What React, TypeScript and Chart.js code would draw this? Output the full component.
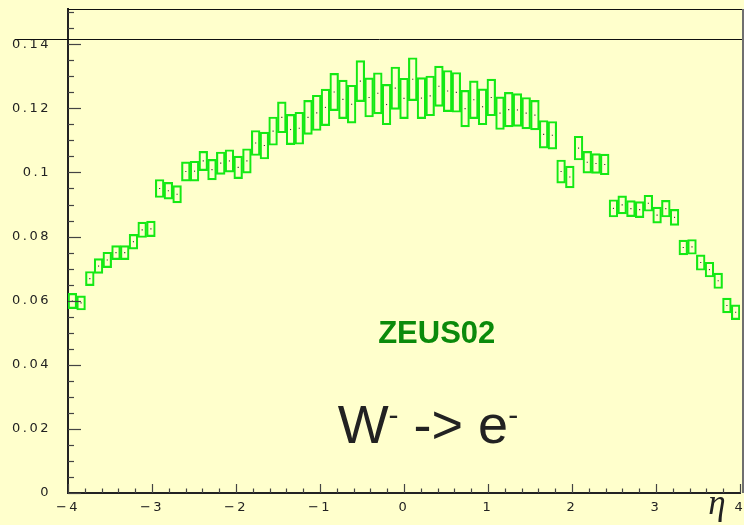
import { useEffect, useRef } from 'react';
import { Chart, registerables } from 'chart.js';

Chart.register(...registerables);

// Pseudorapidity range of the histogram and its binning
const ETA_MIN = -4;
const ETA_MAX = 4;
const ETA_STEP = 1;

// Vertical range
const Y_MIN = 0;
const Y_MAX = 0.151;
const Y_STEP = 0.02;
const Y_MINOR_STEP = 0.005;
const X_MINOR_STEP = 0.2;

// Horizontal reference line
const REF_LINE = 0.1415;

// Bin contents (box centres) per eta bin, from eta = -4 to eta = 4
const VALUES = [
  0.0599, 0.0593, 0.0669, 0.0708, 0.0727, 0.0750, 0.0750, 0.0784, 0.0821, 0.0824,
  0.0950, 0.0943, 0.0932, 0.1003, 0.1004, 0.1036, 0.1009, 0.1029, 0.1036, 0.1016,
  0.1036, 0.1092, 0.1084, 0.1129, 0.1172, 0.1134, 0.1138, 0.1172, 0.1186, 0.1203,
  0.1251, 0.1228, 0.1213, 0.1285, 0.1234, 0.1247, 0.1212, 0.1263, 0.1231, 0.1291,
  0.1232, 0.1239, 0.1269, 0.1254, 0.1250, 0.1199, 0.1227, 0.1205, 0.1234, 0.1185,
  0.1196, 0.1195, 0.1185, 0.1179, 0.1119, 0.1116, 0.1003, 0.0986, 0.1076, 0.1032,
  0.1028, 0.1025, 0.0888, 0.0899, 0.0887, 0.0884, 0.0904, 0.0867, 0.0887, 0.0860,
  0.0766, 0.0768, 0.0719, 0.0697, 0.0662, 0.0585, 0.0564,
];

// Half-heights of the error boxes
const ERRORS = [
  0.0024, 0.0022, 0.0022, 0.0023, 0.0024, 0.0022, 0.0022, 0.0023, 0.0024, 0.0024,
  0.0028, 0.0026, 0.0027, 0.0030, 0.0031, 0.0030, 0.0032, 0.0035, 0.0035, 0.0035,
  0.0038, 0.0039, 0.0042, 0.0044, 0.0048, 0.0047, 0.0050, 0.0053, 0.0055, 0.0057,
  0.0058, 0.0060, 0.0059, 0.0064, 0.0061, 0.0064, 0.0063, 0.0066, 0.0063, 0.0067,
  0.0064, 0.0062, 0.0063, 0.0064, 0.0062, 0.0057, 0.0059, 0.0056, 0.0057, 0.0051,
  0.0054, 0.0051, 0.0049, 0.0046, 0.0043, 0.0043, 0.0036, 0.0034, 0.0037, 0.0034,
  0.0031, 0.0032, 0.0027, 0.0028, 0.0025, 0.0025, 0.0025, 0.0025, 0.0026, 0.0025,
  0.0023, 0.0023, 0.0024, 0.0023, 0.0024, 0.0023, 0.0023,
];

// Text labels
const EXPERIMENT = 'ZEUS02';
const EXPERIMENT_POS = { x: 0.39, y: 0.0469 };
const PROCESS_POS = { x: -0.79, y: 0.0157 };
const AXIS_TITLE = 'η';

const BG = '#ffffcc';
const BOX_COLOR = '#14e914';
const TEXT_DARK = '#222222';

const fmtY = (v: number) => String(Number(v.toFixed(3)));
const fmtX = (v: number) => (v < 0 ? '\u2212' + String(-v) : String(v));

const pageBackground = {
  id: 'pageBackground',
  beforeDraw(chart: any) {
    const { ctx, width, height } = chart;
    ctx.save();
    ctx.fillStyle = BG;
    ctx.fillRect(0, 0, width, height);
    ctx.restore();
    // wide-set tick lettering
    ctx.letterSpacing = '2.5px';
  },
  beforeDatasetsDraw(chart: any) {
    chart.ctx.letterSpacing = '0px';
  },
};

const frameAndText = {
  id: 'frameAndText',
  afterDraw(chart: any) {
    const { ctx, chartArea: a, scales, width } = chart;
    const xs = scales.x;
    const ys = scales.y;
    ctx.save();
    ctx.letterSpacing = '0px';

    const seg = (x1: number, y1: number, x2: number, y2: number) => {
      ctx.beginPath();
      ctx.moveTo(x1, y1);
      ctx.lineTo(x2, y2);
      ctx.stroke();
    };

    // top frame edge
    ctx.strokeStyle = '#111';
    ctx.lineWidth = 1;
    seg(a.left, Math.round(a.top) + 0.5, width, Math.round(a.top) + 0.5);

    // horizontal reference line across the pad
    const yr = Math.round(ys.getPixelForValue(REF_LINE)) + 0.5;
    seg(15, yr, width, yr);

    // right pad edge
    ctx.strokeStyle = '#6f6f6f';
    ctx.lineWidth = 2;
    seg(width - 1, a.top, width - 1, a.bottom);

    // inward tick marks on the y axis
    ctx.strokeStyle = '#444';
    ctx.lineWidth = 1.2;
    for (let v = Y_MIN; v <= Y_MAX + 1e-9; v += Y_MINOR_STEP) {
      const isMajor = Math.abs(v / Y_STEP - Math.round(v / Y_STEP)) < 1e-6;
      const py = Math.round(ys.getPixelForValue(v)) + 0.5;
      seg(a.left, py, a.left + (isMajor ? 13 : 6), py);
    }
    // inward tick marks on the x axis
    for (let v = ETA_MIN; v <= ETA_MAX + 1e-9; v += X_MINOR_STEP) {
      const isMajor = Math.abs(v / ETA_STEP - Math.round(v / ETA_STEP)) < 1e-6;
      const px = Math.round(xs.getPixelForValue(v)) + 0.5;
      seg(px, a.bottom, px, a.bottom - (isMajor ? 9 : 4.5));
    }

    // experiment label
    ctx.fillStyle = '#0b8a0b';
    ctx.font = 'bold 31px "Liberation Sans", Arial, sans-serif';
    ctx.textAlign = 'center';
    ctx.textBaseline = 'alphabetic';
    ctx.fillText(EXPERIMENT, xs.getPixelForValue(EXPERIMENT_POS.x), ys.getPixelForValue(EXPERIMENT_POS.y));

    // process label: W^- -> e^-
    const big = '54px "Liberation Sans", Arial, sans-serif';
    const sup = '30px "Liberation Sans", Arial, sans-serif';
    const supRise = 18;
    let px = xs.getPixelForValue(PROCESS_POS.x);
    const base = ys.getPixelForValue(PROCESS_POS.y);
    ctx.fillStyle = TEXT_DARK;
    ctx.textAlign = 'left';
    ctx.font = big;
    ctx.fillText('W', px, base);
    px += ctx.measureText('W').width;
    ctx.font = sup;
    ctx.fillText('-', px, base - supRise);
    px += ctx.measureText('-').width;
    ctx.font = big;
    ctx.fillText(' -> e', px, base);
    px += ctx.measureText(' -> e').width;
    ctx.font = sup;
    ctx.fillText('-', px, base - supRise);

    // axis title
    ctx.font = 'italic 35px "Liberation Serif", "DejaVu Serif", serif';
    ctx.textAlign = 'center';
    ctx.fillText(AXIS_TITLE, a.right - 23, a.bottom + 21);

    ctx.restore();
  },
};

export default function App() {
  const canvasRef = useRef<HTMLCanvasElement | null>(null);

  useEffect(() => {
    const canvas = canvasRef.current;
    if (!canvas) return;

    const boxes = VALUES.map((v, i) => [v - ERRORS[i], v + ERRORS[i]]);
    const labels = VALUES.map((_, i) => String(i + 1));

    const chart = new Chart(canvas, {
      type: 'bar',
      data: {
        labels,
        datasets: [
          {
            type: 'bar',
            xAxisID: 'xb',
            yAxisID: 'y',
            data: boxes as any,
            backgroundColor: 'rgba(0,0,0,0)',
            borderColor: BOX_COLOR,
            borderWidth: 1.5,
            borderSkipped: false,
            categoryPercentage: 1,
            barPercentage: 1,
          },
          {
            type: 'line',
            xAxisID: 'xb',
            yAxisID: 'y',
            data: VALUES,
            showLine: false,
            pointStyle: 'rect',
            pointRadius: 0.8,
            pointBackgroundColor: '#333',
            pointBorderWidth: 0,
          },
        ],
      },
      options: {
        responsive: false,
        animation: false,
        events: [],
        layout: { padding: { top: 9, right: 3, left: 0, bottom: 0 } },
        plugins: {
          legend: { display: false },
          tooltip: { enabled: false },
          title: { display: false },
        },
        scales: {
          xb: {
            type: 'category',
            display: false,
            offset: true,
            grid: { display: false },
          },
          x: {
            type: 'linear',
            position: 'bottom',
            offset: false,
            min: ETA_MIN,
            max: ETA_MAX,
            grid: { display: false, drawTicks: false, offset: false },
            border: { display: true, color: '#222', width: 2 },
            ticks: {
              stepSize: ETA_STEP,
              includeBounds: false,
              autoSkip: false,
              maxRotation: 0,
              padding: 7,
              color: TEXT_DARK,
              font: { family: '"DejaVu Sans", sans-serif', size: 13 },
              callback: (v: any) => fmtX(Number(v)),
            },
            afterFit: (s: any) => {
              s.height = 32;
              s.paddingLeft = 0;
              s.paddingRight = 0;
            },
          },
          y: {
            type: 'linear',
            position: 'left',
            min: Y_MIN,
            max: Y_MAX,
            grid: { display: false, drawTicks: false },
            border: { display: true, color: '#222', width: 2 },
            ticks: {
              stepSize: Y_STEP,
              includeBounds: false,
              padding: 17,
              color: TEXT_DARK,
              font: { family: '"DejaVu Sans", sans-serif', size: 13 },
              callback: (v: any) => fmtY(Number(v)),
            },
            afterFit: (s: any) => {
              s.width = 68;
              s.paddingTop = 0;
              s.paddingBottom = 0;
            },
          },
        },
      } as any,
      plugins: [pageBackground, frameAndText],
    });

    return () => chart.destroy();
  }, []);

  return (
    <div style={{ position: 'absolute', left: 0, top: 0, width: 744, height: 525, background: BG }}>
      <canvas ref={canvasRef} width={744} height={525} style={{ display: 'block', width: 744, height: 525 }} />
    </div>
  );
}
